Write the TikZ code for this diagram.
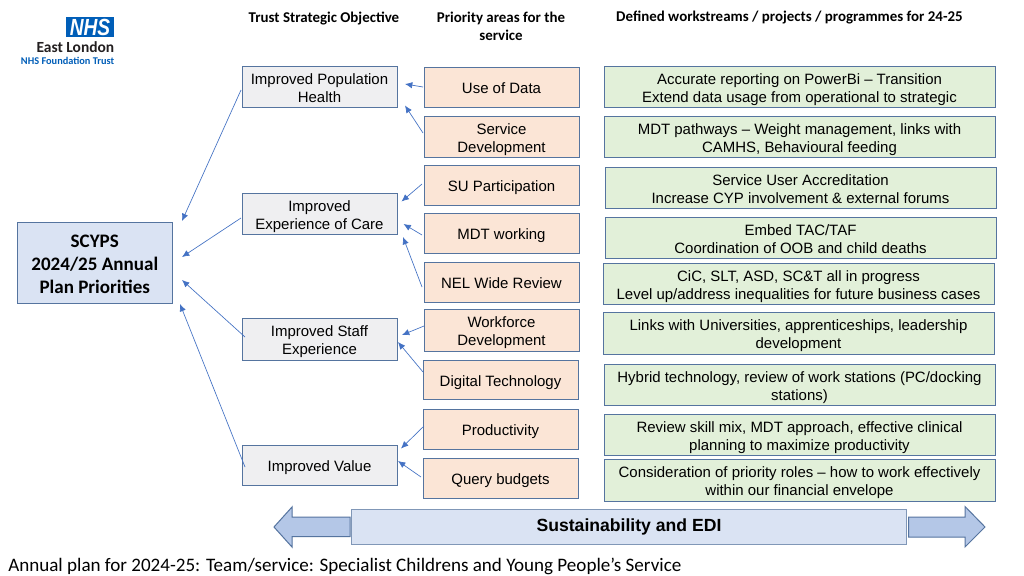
\documentclass[tikz,border=0pt]{standalone}
\usepackage{fontspec}
\setmainfont{Liberation Sans}
\newfontfamily\carl{Carlito}
\usetikzlibrary{calc,arrows.meta}
\definecolor{edge}{HTML}{55749F}
\definecolor{arr}{HTML}{4472C4}
\definecolor{greyfill}{HTML}{EFEFF1}
\definecolor{peach}{HTML}{FBE5D6}
\definecolor{greenfill}{HTML}{E2F0D9}
\definecolor{bluefill}{HTML}{DAE3F3}
\definecolor{arrowfill}{HTML}{B4C7E7}
\definecolor{nhsblue}{HTML}{005EB8}
\definecolor{nhsdark}{HTML}{231F20}
\newcommand{\topS}{\rule{0pt}{1.02\baselineskip}}
\newcommand{\botS}{\rule[-0.3\baselineskip]{0pt}{0pt}}
\tikzset{
  boxbase/.style={draw=edge,line width=0.75pt,inner sep=0pt,align=center,text=black,font=\fontsize{11.23}{13.5}\selectfont},
  objbox/.style={boxbase,fill=greyfill},
  prbox/.style={boxbase,fill=peach},
  workbox/.style={boxbase,fill=greenfill},
  rootbox/.style={draw=edge,line width=0.75pt,fill=bluefill,align=center,inner sep=0pt,font=\carl\bfseries\fontsize{14.3}{17.25}\selectfont},
  head/.style={font=\carl\bfseries\fontsize{11.2}{13.5}\selectfont,align=center,inner sep=0pt},
  link/.style={draw=arr,line width=0.5pt,-{Latex[length=5.5pt,width=4.8pt]}},
  blockarrow/.style={draw=edge,line width=0.75pt,fill=arrowfill},
}
\begin{document}
\begin{tikzpicture}[x=0.75pt,y=-0.75pt]
\useasboundingbox (0,0) rectangle (1024,575);
\fill[white] (0,0) rectangle (1024,575);
\def\B#1#2#3#4#5#6#7{\node[#1,minimum width=#4*0.75pt-#3*0.75pt,minimum height=#6*0.75pt-#5*0.75pt] (#2) at ({(#3+#4)/2},{(#5+#6)/2}) {\topS#7\botS};}
\B{rootbox}{root}{17}{172.5}{222}{303}{SCYPS\\2024/25 Annual\\Plan Priorities}
\B{objbox}{pop}{242}{397}{67}{107}{Improved Population\\Health}
\B{objbox}{exp}{242}{397}{194}{234}{Improved\\Experience of Care}
\B{objbox}{staff}{242}{397}{320}{359}{Improved Staff\\Experience}
\B{objbox}{val}{242}{397}{445.5}{485}{Improved Value}
\B{prbox}{data}{424}{579}{67}{107}{Use of Data}
\B{prbox}{sdev}{424}{579}{117}{157}{Service\\Development}
\B{prbox}{su}{424}{579}{165}{205}{SU Participation}
\B{prbox}{mdt}{424}{579}{213}{253}{MDT working}
\B{prbox}{nel}{424}{579}{262}{302}{NEL Wide Review}
\B{prbox}{wf}{424}{579}{310.5}{350}{Workforce\\Development}
\B{prbox}{dig}{423}{578}{360}{399.5}{Digital Technology}
\B{prbox}{prod}{423}{578}{409.5}{449}{Productivity}
\B{prbox}{qb}{423}{578}{458}{498}{Query budgets}
\B{workbox}{w1}{604}{995}{67}{107}{Accurate reporting on PowerBi – Transition\\Extend data usage from operational to strategic}
\B{workbox}{w2}{604}{995}{117}{157}{MDT pathways – Weight management, links with\\CAMHS, Behavioural feeding}
\B{workbox}{w3}{605}{996}{168}{208}{Service User Accreditation\\Increase CYP involvement \& external forums}
\B{workbox}{w4}{605}{996}{218}{258}{Embed TAC/TAF\\Coordination of OOB and child deaths}
\B{workbox}{w5}{603}{994}{264}{304}{CiC, SLT, ASD, SC\&T all in progress\\Level up/address inequalities for future business cases}
\B{workbox}{w6}{603}{994}{314}{353}{Links with Universities, apprenticeships, leadership\\development}
\B{workbox}{w7}{604}{995}{365}{405}{Hybrid technology, review of work stations (PC/docking\\stations)}
\B{workbox}{w8}{604}{995}{415}{455}{Review skill mix, MDT approach, effective clinical\\planning to maximize productivity}
\B{workbox}{w9}{604}{995}{461}{500}{Consideration of priority roles – how to work effectively\\within our financial envelope}
\coordinate (rp) at (182,221); \coordinate (re) at (182,257); \coordinate (rs) at (182,280); \coordinate (rv) at (180,304);
\coordinate (ps) at (241,90); \coordinate (es) at (241,218); \coordinate (ss) at (245,337); \coordinate (vs) at (245,467);
\draw[link] (ps) -- (rp);
\draw[link] (es) -- (re);
\draw[link] (ss) -- (rs);
\draw[link] (vs) -- (rv);
\coordinate (d0) at (423,87); \coordinate (d1) at (405,84);
\coordinate (s0) at (423,133); \coordinate (s1) at (405,105.5);
\coordinate (u0) at (422,184); \coordinate (u1) at (401.5,201.5);
\coordinate (m0) at (422,235); \coordinate (m1) at (403.5,224);
\coordinate (n0) at (422,287); \coordinate (n1) at (403,237);
\coordinate (f0) at (424,326); \coordinate (f1) at (402,335);
\coordinate (g0) at (423,372); \coordinate (g1) at (398,342);
\coordinate (r0) at (424,426); \coordinate (r1) at (401,448.5);
\coordinate (q0) at (421,477); \coordinate (q1) at (398,461);
\foreach \a/\b in {d0/d1,s0/s1,u0/u1,m0/m1,n0/n1,f0/f1,g0/g1,r0/r1,q0/q1}{\draw[link] (\a) -- (\b);}
\node[head] (h1) at (324,19) {Trust Strategic Objective};
\node[head] (h2) at (501,26) {Priority areas for the\\service};
\node[head] (h3) at (789.5,18) {Defined workstreams / projects / programmes for 24-25};
\node[draw=edge!75,line width=0.75pt,fill=bluefill,minimum width=554.5*0.75pt,minimum height=34.5*0.75pt,inner sep=0pt,font=\bfseries\fontsize{13.2}{16}\selectfont] (band) at (629,527.2) {\raisebox{-1.4pt}{Sustainability and EDI}};
\draw[blockarrow] (350,517) -- (292,517) -- (292,507) -- (274,527) -- (292,547) -- (292,536.5) -- (350,536.5) -- cycle;
\draw[blockarrow] (908.5,517) -- (965,517) -- (965,506.5) -- (985,527) -- (965,547) -- (965,537) -- (908.5,537) -- cycle;
\node[anchor=west,inner sep=0pt,font=\carl\fontsize{14.3}{17}\selectfont] (cap) at (8,566.5) {Annual plan for 2024-25: Team/service: Specialist Childrens and Young People’s Service};
\node[fill=nhsblue,minimum width=48*0.75pt,minimum height=20*0.75pt,inner sep=0pt,text=white,font=\bfseries\itshape\fontsize{17.5}{17.5}\selectfont] (nhs) at (90,27) {\scalebox{0.82}[1]{NHS}};
\node[anchor=east,inner sep=0pt,text=nhsdark,font=\carl\bfseries\fontsize{11.6}{13}\selectfont] (el) at (114.5,47.5) {East London};
\node[anchor=east,inner sep=0pt,text=nhsblue,font=\carl\bfseries\fontsize{7.75}{9}\selectfont] (ft) at (114.5,60.5) {NHS Foundation Trust};
\end{tikzpicture}
\end{document}
